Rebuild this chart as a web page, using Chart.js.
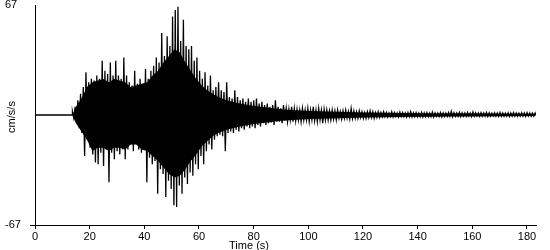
<!DOCTYPE html>
<html>
<head>
<meta charset="utf-8">
<script src="https://cdn.jsdelivr.net/npm/chart.js@4/dist/chart.umd.min.js"></script>
<style>
  html, body { margin: 0; padding: 0; background: #fff; }
  #wrap { position: relative; width: 550px; height: 250px; }
</style>
</head>
<body>
<div id="wrap"><canvas id="c" width="550" height="250"></canvas></div>
<script>
// ---- Data ----
const yUnit = "cm/s/s";
const xTitle = "Time (s)";
const yTickValues = [-67, 67];
const xTickValues = [0, 20, 40, 60, 80, 100, 120, 140, 160, 180];
const xMax = 183.3;
const onsetTime = 13.7;      // s, trace is flat before this
const sampleStep = 0.99;     // s between successive peak readings
// positive peaks, one per step starting at onsetTime
const upperPeaks = [
  2, 5, 9, 13, 17, 26, 20, 22, 21, 24, 22, 33, 27, 25, 32, 24, 33, 24, 22, 35,
  24, 20, 18, 27, 19, 22, 18, 28, 22, 27, 30, 35, 32, 50, 36, 48, 42, 60, 64, 66,
  45, 58, 42, 40, 42, 33, 35, 27, 22, 26, 18, 24, 15, 17, 20, 15, 14, 20, 11, 10,
  15, 11, 9, 10, 8, 10, 8, 9, 10, 7, 8, 6, 7, 5, 6, 9, 5, 4, 6, 4,
  3.5, 5, 4, 3.5, 3, 4, 3, 4, 3, 5, 3, 4, 3, 3.5, 3, 2.5, 3, 2.5, 3, 2,
  2.5, 3, 2, 4, 2.5, 2, 2.5, 2, 1.5, 2, 2.5, 2, 1.5, 2, 1.5, 2, 1.5, 1.2, 2, 1.5,
  1.2, 1.8, 1.5, 1.2, 1.5, 2, 1.3, 1.5, 1.2, 1.6, 1.3, 1.5, 1.2, 1.8, 1.3, 1.2, 1.5, 1.3, 1.2, 1.5,
  2.2, 1.4, 1.2, 1.6, 1.3, 1.2, 1.5, 1.2, 1.8, 1.3, 1.2, 1.4, 1.2, 1.5, 1.3, 1.1, 1.4, 1.2, 1.5, 1.2,
  1.1, 1.3, 1.2, 1.5, 1.2, 1.1, 1.3, 1.2, 1.4, 1.2, 1.1, 1.2
];
// negative peaks, half a step after each positive peak
const lowerPeaks = [
  -2, -5, -8, -11, -25, -15, -20, -24, -29, -30, -23, -31, -21, -41, -23, -27, -22, -24, -21, -27,
  -21, -18, -22, -16, -21, -23, -20, -41, -26, -30, -28, -48, -33, -36, -50, -40, -45, -55, -56, -43,
  -48, -38, -42, -35, -37, -30, -33, -25, -30, -22, -18, -21, -15, -13, -12, -13, -22, -11, -10, -11,
  -9, -10, -8, -9, -7, -8, -7, -8, -6, -7, -5, -6, -5, -4.5, -6, -4, -4, -5, -3.5, -4,
  -3, -4, -3.5, -3, -4, -3, -3, -4, -3, -3.5, -4, -3, -5, -3, -3, -3, -2.5, -3, -2, -2.5,
  -2, -2, -2.5, -2, -2, -2, -1.5, -2, -2, -1.5, -1.5, -2, -1.5, -1.5, -1.2, -1, -1.3, -1, -1.2, -1,
  -1.2, -1, -1.1, -1.3, -1, -1.2, -1, -1.1, -1, -1.2, -1, -1.1, -1, -1.2, -0.9, -1, -1.1, -0.9, -1, -0.8,
  -1, -0.9, -0.8, -1, -0.8, -0.9, -0.8, -1, -0.8, -0.7, -0.9, -0.8, -0.7, -0.9, -0.8, -0.7, -0.8, -0.9, -0.7, -0.8,
  -0.7, -0.9, -0.8, -0.7, -0.8, -0.7, -0.8, -0.9, -0.7, -0.8, -0.7, -0.8
];
// solid core of the record (densely overlapping oscillations), read at coarser times
const coreTimes = [13.7, 15, 17, 19, 21, 23, 25, 27, 29, 31, 33, 35, 37, 39, 41, 43, 45, 47, 49, 51,
  53, 55, 57, 59, 61, 63, 65, 67, 70, 75, 80, 85, 90, 100, 110, 120, 140, 183];
const coreUpper = [0, 5, 10, 17, 20, 21, 22, 20, 22, 21, 20, 17, 18, 19, 20, 24, 27, 32, 36, 40,
  38, 32, 27, 22, 18, 15, 13, 11, 9, 7, 5.5, 4.5, 3.5, 2.5, 2, 1.5, 1, 0.8];
const coreLower = [0, -5, -10, -15, -22, -20, -20, -22, -20, -20, -21, -18, -18, -21, -22, -25, -28, -32, -36, -38,
  -37, -33, -28, -24, -19, -16, -13, -11, -9, -7, -5.5, -4.5, -3.5, -2.5, -2, -1.5, -1, -0.6];

// ---- Build the traces ----
const trace = [{ x: 0, y: 0 }, { x: onsetTime, y: 0 }];
for (let i = 0; i < upperPeaks.length; i++) {
  const t = onsetTime + i * sampleStep;
  trace.push({ x: t, y: upperPeaks[i] });
  trace.push({ x: t + sampleStep / 2, y: lowerPeaks[i] });
}
const coreTop = coreTimes.map((t, i) => ({ x: t, y: coreUpper[i] }));
const coreBottom = coreTimes.map((t, i) => ({ x: t, y: coreLower[i] }));

const FONT = { family: "Arial, 'Liberation Sans', sans-serif", size: 11 };

const titlesPlugin = {
  id: 'titles',
  afterDraw(chart) {
    const ctx = chart.ctx;
    ctx.save();
    ctx.fillStyle = '#000';
    ctx.font = `${FONT.size}px ${FONT.family}`;
    ctx.textAlign = 'center';
    ctx.textBaseline = 'middle';
    ctx.fillText(xTitle, 249, 246);
    ctx.translate(11.5, 117);
    ctx.rotate(-Math.PI / 2);
    ctx.fillText(yUnit, 0, 0);
    ctx.restore();
  }
};

new Chart(document.getElementById('c'), {
  type: 'line',
  data: {
    datasets: [{
      data: coreTop,
      borderWidth: 0,
      borderColor: 'rgba(0,0,0,0)',
      pointRadius: 0,
      tension: 0,
      fill: false
    }, {
      data: coreBottom,
      borderWidth: 0,
      borderColor: 'rgba(0,0,0,0)',
      backgroundColor: '#000',
      pointRadius: 0,
      tension: 0,
      fill: '-1'
    }, {
      data: trace,
      borderColor: '#000',
      borderWidth: 1.3,
      pointRadius: 0,
      tension: 0,
      fill: false
    }]
  },
  options: {
    responsive: false,
    animation: false,
    events: [],
    layout: { padding: { left: 5, right: 14, top: 5, bottom: 0 } },
    plugins: { legend: { display: false }, tooltip: { enabled: false } },
    scales: {
      x: {
        type: 'linear',
        min: 0,
        max: xMax,
        afterBuildTicks(scale) { scale.ticks = xTickValues.map(v => ({ value: v })); },
        afterFit(scale) { scale.height = 25; scale.paddingLeft = 0; scale.paddingRight = 0; },
        ticks: { color: '#000', font: FONT, padding: 1, maxRotation: 0, autoSkip: false },
        grid: { drawOnChartArea: false, drawTicks: true, tickLength: 4, color: '#000' },
        border: { color: '#000', width: 1 }
      },
      y: {
        type: 'linear',
        min: -67,
        max: 67,
        afterBuildTicks(scale) { scale.ticks = yTickValues.map(v => ({ value: v })); },
        afterFit(scale) { scale.width = 30; scale.paddingTop = 0; scale.paddingBottom = 0; },
        ticks: { color: '#000', font: FONT, padding: 4, crossAlign: 'far', autoSkip: false },
        grid: {
          drawOnChartArea: false, drawTicks: true, tickLength: 5,
          color: ctx => (ctx.tick && ctx.tick.value === -67) ? '#000' : 'rgba(0,0,0,0)'
        },
        border: { color: '#000', width: 1 }
      }
    }
  },
  plugins: [titlesPlugin]
});
</script>
</body>
</html>
